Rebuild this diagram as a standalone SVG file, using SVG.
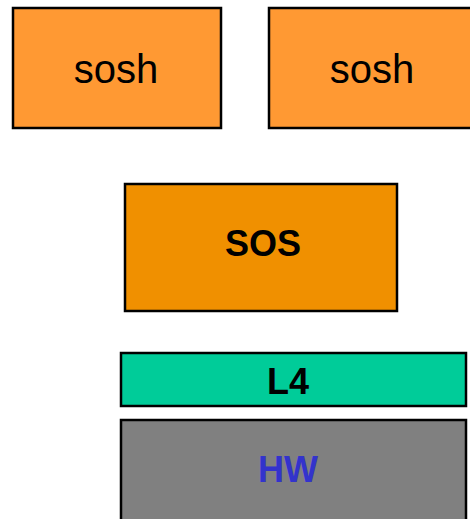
<svg xmlns="http://www.w3.org/2000/svg" width="470" height="519" viewBox="0 0 470 519">
  <style>
    .box { stroke: #000; stroke-width: 2.5; }
    .shell { fill: #FF9933; }
    .label { font-family: "Liberation Sans", Arial, sans-serif; text-anchor: middle; fill: #000; }
    .big { font-size: 40px; }
    .bold { font-size: 36px; font-weight: bold; }
  </style>
  <rect width="470" height="519" fill="#fff"/>
  <g id="sosh-left">
    <rect class="box shell" x="13" y="8" width="208" height="120"/>
    <text class="label big" x="116" y="83">sosh</text>
  </g>
  <g id="sosh-right">
    <rect class="box shell" x="269" y="8" width="210" height="120"/>
    <text class="label big" x="372" y="83">sosh</text>
  </g>
  <g id="sos">
    <rect class="box" x="125" y="184" width="272" height="127" fill="#F09000"/>
    <text class="label bold" x="263" y="256">SOS</text>
  </g>
  <g id="l4">
    <rect class="box" x="121" y="353" width="345" height="53" fill="#00CC99"/>
    <text class="label bold" x="288" y="394">L4</text>
  </g>
  <g id="hw">
    <rect class="box" x="121" y="420" width="345" height="110" fill="#808080"/>
    <text class="label bold" x="288" y="482" style="fill:#3333CC">HW</text>
  </g>
  <g id="connectors"/>
</svg>
